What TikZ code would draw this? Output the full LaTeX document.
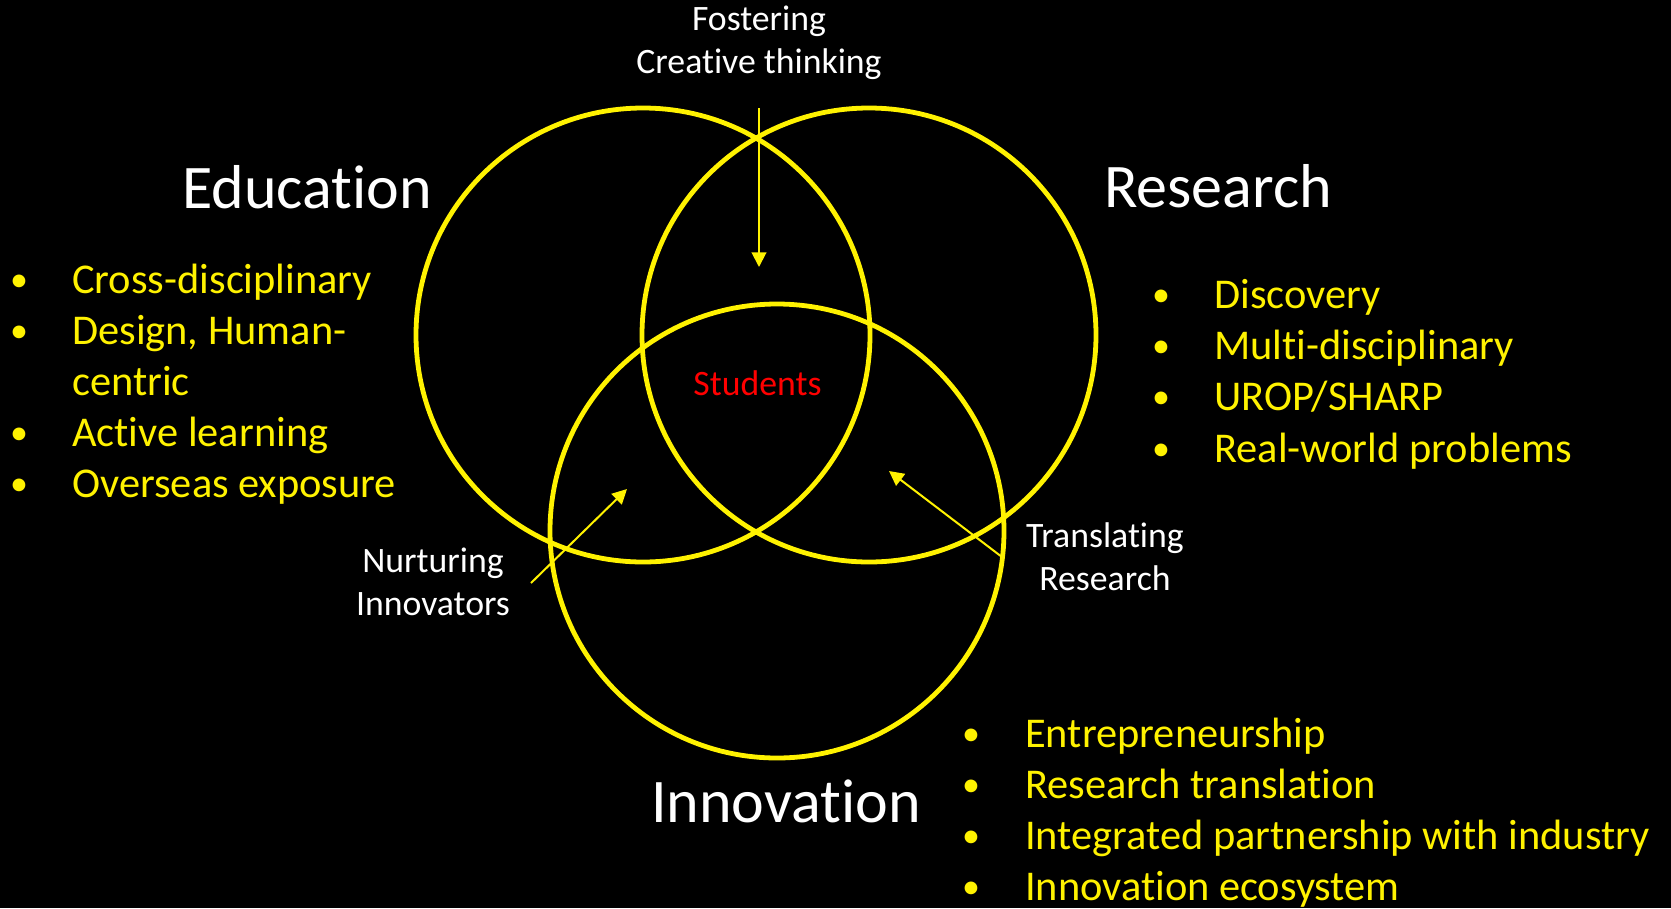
\documentclass[tikz,border=0pt]{standalone}
\usepackage{fontspec}
\setmainfont{Carlito}[Ligatures={CommonOff,ContextualOff,RareOff}]
\usetikzlibrary{arrows.meta}
\newcommand{\tisep}{t\kern0pt i}
\begin{document}
\begin{tikzpicture}[x=0.75pt,y=-0.75pt,
  ring/.style={draw=yellow, line width=3.6pt},
  conn/.style={draw=yellow, line width=1.5pt, -{Triangle[width=11pt,length=11pt]}},
  title/.style={text=white, font=\fontsize{46.5}{55}\selectfont, inner sep=0pt, anchor=base},
  lbl/.style={text=white, font=\fontsize{26.8}{32}\selectfont, inner sep=0pt, anchor=base},
  stud/.style={text=red, font=\fontsize{26.8}{32}\selectfont, inner sep=0pt, anchor=base},
  item/.style={text=yellow, font=\fontsize{31.8}{38}\selectfont, inner sep=0pt, anchor=base west},
  dot/.style={text=yellow, font=\fontsize{27}{32}\selectfont, inner sep=0pt, anchor=base}]
\fill[black] (0,0) rectangle (1671,908);
\useasboundingbox (0,0) rectangle (1671,908);

% circles
\draw[ring] (643,335) circle[radius=170.25pt];
\draw[ring] (869,335) circle[radius=170.25pt];
\draw[ring] (777,531) circle[radius=170.25pt];

% titles
\node[title] (edu) at (307,208) {Educa\tisep on};
\node[title] (res) at (1218,207) {Research};
\node[title] (inn) at (786,822) {Innova\tisep on};

% centre
\node[stud] (students) at (757.5,395) {Students};

% flow labels
\node[lbl] (fost1) at (759,30) {Fostering};
\node[lbl] (fost2) at (759,73) {Crea\tisep ve thinking};
\node[lbl] (nurt1) at (433,572) {Nurturing};
\node[lbl] (nurt2) at (433,615) {Innovators};
\node[lbl] (tran1) at (1105,547) {Transla\tisep ng};
\node[lbl] (tran2) at (1105,590) {Research};

% arrows
\coordinate (fa) at (759,108);
\coordinate (fb) at (759,267);
\coordinate (na) at (531,583);
\coordinate (nb) at (627,489);
\coordinate (ta) at (1002,557);
\coordinate (tb) at (889,471);
\draw[conn] (fa) -- (fb);
\draw[conn] (na) -- (nb);
\draw[conn] (ta) -- (tb);

% Education list
\node[dot] (ed1) at (19,291) {•};
\node[item] (et1) at (72,293) {Cross-disciplinary};
\node[dot] (ed2) at (19,342) {•};
\node[item] (et2) at (72,344) {Design, Human-};
\node[item] (et2b) at (72,395) {centric};
\node[dot] (ed3) at (19,444) {•};
\node[item] (et3) at (72,446) {Ac\tisep ve learning};
\node[dot] (ed4) at (19,495) {•};
\node[item] (et4) at (72,497) {Overseas exposure};

% Research list
\node[dot] (rd1) at (1161,306) {•};
\node[item] (rt1) at (1214,308) {Discovery};
\node[dot] (rd2) at (1161,357) {•};
\node[item] (rt2) at (1214,359) {Mul\tisep-disciplinary};
\node[dot] (rd3) at (1161,408) {•};
\node[item] (rt3) at (1214,410) {UROP/SHARP};
\node[dot] (rd4) at (1161,460) {•};
\node[item] (rt4) at (1214,462) {Real-world problems};

% Innovation list
\node[dot] (id1) at (971,745) {•};
\node[item] (it1) at (1025,747) {Entrepreneurship};
\node[dot] (id2) at (971,796) {•};
\node[item] (it2) at (1025,798) {Research transla\tisep on};
\node[dot] (id3) at (971,847) {•};
\node[item] (it3) at (1025,849) {Integrated partnership with industry};
\node[dot] (id4) at (971,898) {•};
\node[item] (it4) at (1025,900) {Innova\tisep on ecosystem};
\end{tikzpicture}
\end{document}
